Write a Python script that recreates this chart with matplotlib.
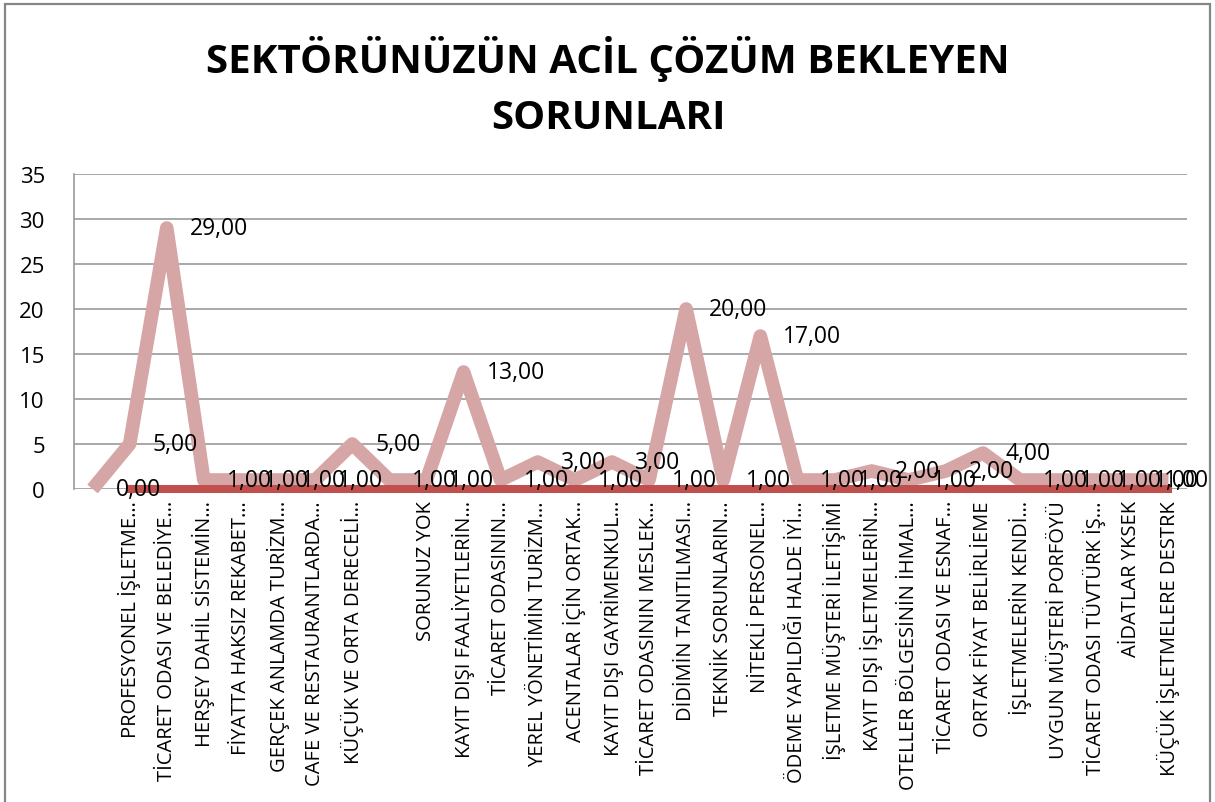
import matplotlib
matplotlib.use("Agg")
import matplotlib.pyplot as plt
from matplotlib.patches import Rectangle
import numpy as np

plt.rcParams['font.family'] = ['Open Sans', 'DejaVu Sans']

title = "SEKTÖRÜNÜZÜN ACİL ÇÖZÜM BEKLEYEN\nSORUNLARI"

categories = [
    "",
    "PROFESYONEL İŞLETME…",
    "TİCARET ODASI VE BELEDİYE…",
    "HERŞEY DAHİL SİSTEMİN…",
    "FİYATTA HAKSIZ REKABET…",
    "GERÇEK ANLAMDA TURİZM…",
    "CAFE VE RESTAURANTLARDA…",
    "KÜÇÜK VE ORTA DERECELİ…",
    "",
    "SORUNUZ YOK",
    "KAYIT DIŞI FAALİYETLERİN…",
    "TİCARET ODASININ…",
    "YEREL YÖNETİMİN TURİZM…",
    "ACENTALAR İÇİN ORTAK…",
    "KAYIT DIŞI GAYRİMENKUL…",
    "TİCARET ODASININ MESLEK…",
    "DİDİMİN TANITILMASI…",
    "TEKNİK SORUNLARIN…",
    "NİTEKLİ PERSONEL…",
    "ÖDEME YAPILDIĞI HALDE İYİ…",
    "İŞLETME MÜŞTERİ İLETİŞİMİ",
    "KAYIT DIŞI İŞLETMELERİN…",
    "OTELLER BÖLGESİNİN İHMAL…",
    "TİCARET ODASI VE ESNAF…",
    "ORTAK FİYAT BELİRLİEME",
    "İŞLETMELERİN KENDİ…",
    "UYGUN MÜŞTERİ PORFÖYÜ",
    "TİCARET ODASI TÜVTÜRK İŞ…",
    "AİDATLAR YKSEK",
    "KÜÇÜK İŞLETMELERE DESTRK",
]

counts = [0, 5, 29, 1, 1, 1, 1, 5, 1, 1, 13, 1, 3, 1, 3, 1, 20, 1, 17, 1,
          1, 2, 1, 2, 4, 1, 1, 1, 1, 1]

# second series (near zero), absent for first category
second = [np.nan] + [0] * 29

yticks = [0, 5, 10, 15, 20, 25, 30, 35]

W, H = 1215, 803
fig = plt.figure(figsize=(W / 100, H / 100), dpi=100)
fig.patch.set_facecolor('white')

# outer chart frame
fig.patches.append(Rectangle((5 / W, -0.02), (1210 - 5) / W, 1 - 5 / H + 0.02,
                             transform=fig.transFigure, fill=False,
                             edgecolor='#868686', linewidth=1.6))

ax = fig.add_axes([74 / W, 1 - 490 / H, (1187 - 74) / W, (490 - 175) / H])

x = np.arange(len(categories))
ax.plot(x, counts, color='#D5A6A5', linewidth=9.8, solid_joinstyle='round',
        solid_capstyle='butt', zorder=3, clip_on=False)
ax.plot(x, second, color='#C0504D', linewidth=5.8, solid_capstyle='projecting',
        zorder=4, clip_on=False)

for i, (xi, v) in enumerate(zip(x, counts)):
    off = 16.5 if i < len(counts) - 1 else -3.5
    ax.annotate(f"{v:.2f}".replace('.', ','), (xi, v), xytext=(off, 0),
                textcoords='offset points', ha='left', va='center',
                fontsize=16.5, color='black', zorder=5, annotation_clip=False)

ax.set_xlim(-0.5, len(categories) - 0.5)
ax.set_ylim(0, 35)
ax.set_yticks(yticks)
ax.set_yticklabels([str(t) for t in yticks], fontsize=16)
ax.set_xticks(x)
ax.set_xticklabels(categories, rotation=90, fontsize=14.5, ha='center', va='top')
ax.tick_params(axis='y', length=0, pad=21)
ax.tick_params(axis='x', length=0, pad=8)

ax.grid(axis='y', color='#9a9a9a', linewidth=1.2)
ax.set_axisbelow(True)
for s in ['top', 'right', 'bottom']:
    ax.spines[s].set_visible(False)
ax.spines['left'].set_color('#9a9a9a')
ax.spines['left'].set_linewidth(1.2)

fig.text(608 / W, 1 - 87 / H, title, ha='center', va='center', fontsize=29,
         fontweight='bold', linespacing=1.55)

fig.savefig('out.png', dpi=100)
